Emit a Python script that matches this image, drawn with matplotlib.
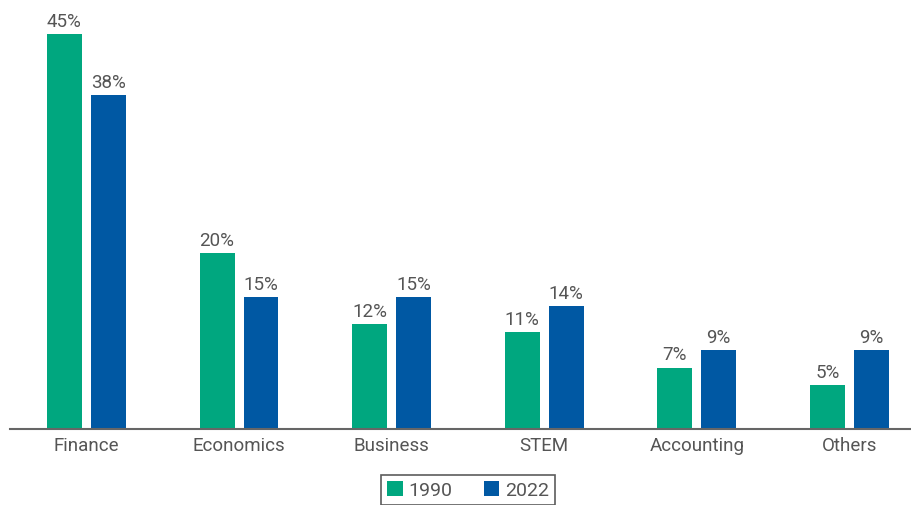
import matplotlib
matplotlib.use("Agg")
import matplotlib.pyplot as plt
import numpy as np

categories = ["Finance", "Economics", "Business", "STEM", "Accounting", "Others"]
values_1990 = [45, 20, 12, 11, 7, 5]
values_2022 = [38, 15, 15, 14, 9, 9]
series_labels = ["1990", "2022"]

green = "#00A77F"
blue = "#0058A3"
textc = "#555555"

plt.rcParams['font.family'] = ['Roboto', 'DejaVu Sans']

W, H = 912, 506
fig = plt.figure(figsize=(W / 100, H / 100), dpi=100)
ax = fig.add_axes([10 / W, 76 / H, (912 - 10) / W, 430 / H])

x = np.arange(len(categories))
bw = 0.229
off = 0.144
b1 = ax.bar(x - off, values_1990, bw, color=green, label=series_labels[0])
b2 = ax.bar(x + off, values_2022, bw, color=blue, label=series_labels[1])

for bars, vals in ((b1, values_1990), (b2, values_2022)):
    for r, v in zip(bars, vals):
        ax.annotate(f"{v}%", (r.get_x() + r.get_width() / 2, v), xytext=(0, 3),
                    textcoords="offset points", ha="center", va="bottom",
                    fontsize=13.5, color=textc)

ax.set_xlim(-0.501, 5.41)
ax.set_ylim(0, 48.99)
ax.set_xticks(x)
ax.set_xticklabels(categories, fontsize=13.5, color=textc)
ax.tick_params(axis='x', length=0, pad=5)
ax.set_yticks([])
for s in ["top", "right", "left"]:
    ax.spines[s].set_visible(False)
ax.spines["bottom"].set_color("#666666")
ax.spines["bottom"].set_linewidth(1.5)

leg = fig.legend(handles=[b1, b2], labels=series_labels, loc="upper center",
                 bbox_to_anchor=(468 / W, 1 - 476 / H), ncol=2, frameon=True,
                 fancybox=False, fontsize=14, handlelength=0.8, handleheight=0.8,
                 handletextpad=0.3, columnspacing=1.6, borderpad=0.3,
                 borderaxespad=0)
leg.get_frame().set_edgecolor("#333333")
leg.get_frame().set_linewidth(1.2)
for t in leg.get_texts():
    t.set_color(textc)

fig.savefig("out.png", dpi=100)
